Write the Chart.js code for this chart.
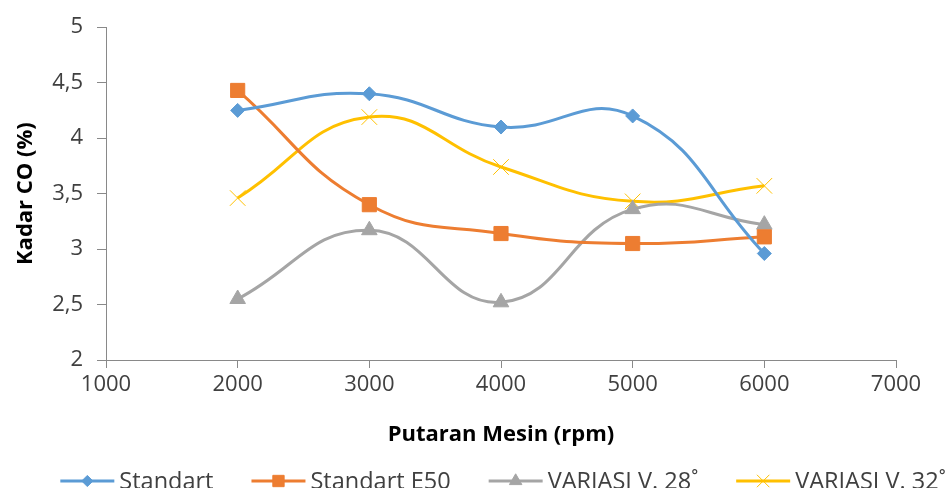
<!DOCTYPE html>
<html>
<head>
<meta charset="utf-8">
<script src="https://cdn.jsdelivr.net/npm/chart.js@4/dist/chart.umd.min.js"></script>
<style>
  html, body { margin: 0; padding: 0; background: #fff; }
  #wrap { width: 949px; height: 488px; }
</style>
</head>
<body>
<div id="wrap"><canvas id="chart" width="949" height="488"></canvas></div>
<script>
const rpm = [2000, 3000, 4000, 5000, 6000];
const standart = [4.25, 4.40, 4.10, 4.20, 2.96];
const standartE50 = [4.43, 3.40, 3.14, 3.05, 3.11];
const variasi28 = [2.55, 3.17, 2.52, 3.36, 3.22];
const variasi32 = [3.46, 4.19, 3.74, 3.43, 3.57];
const seriesNames = ['Standart', 'Standart E50', 'VARIASI V. 28˚', 'VARIASI V. 32˚'];
const seriesColors = ['#5B9BD5', '#ED7D31', '#A5A5A5', '#FFC000'];

const FONT = "'Open Sans', sans-serif";
const AXIS_COLOR = '#898989';

function toPoints(vals){ return rpm.map((x, i) => ({ x, y: vals[i] })); }

const markers = [
  { pointStyle: 'rectRot', radius: 7 },
  { pointStyle: 'rect', radius: 10 },
  { pointStyle: 'triangle', radius: 9 },
  { pointStyle: 'crossRot', radius: 11 }
];

const datasets = [standart, standartE50, variasi28, variasi32].map((vals, i) => ({
  label: seriesNames[i],
  data: toPoints(vals),
  borderColor: seriesColors[i],
  backgroundColor: seriesColors[i],
  borderWidth: 3,
  tension: 0.45,
  pointStyle: markers[i].pointStyle,
  pointRadius: markers[i].radius,
  pointBorderWidth: 1,
  pointBorderColor: seriesColors[i],
  pointBackgroundColor: seriesColors[i]
}));

// legend drawn by hand: line + marker, then text
const bottomLegend = {
  id: 'bottomLegend',
  afterDraw(chart){
    const ctx = chart.ctx;
    const lineLen = 54, gapText = 5, gapItem = 38;
    const y = 481;
    ctx.save();
    ctx.font = "23.5px " + FONT;
    const widths = seriesNames.map(n => ctx.measureText(n).width);
    const total = widths.reduce((s, w) => s + lineLen + gapText + w, 0) + gapItem * (seriesNames.length - 1);
    let x = 503 - total / 2;
    seriesNames.forEach((name, i) => {
      ctx.strokeStyle = seriesColors[i];
      ctx.lineWidth = 3;
      ctx.beginPath(); ctx.moveTo(x, y); ctx.lineTo(x + lineLen, y); ctx.stroke();
      ctx.fillStyle = seriesColors[i];
      ctx.lineWidth = 1;
      const m = markers[i];
      Chart.helpers.drawPoint(ctx, { pointStyle: m.pointStyle, radius: m.radius * 0.8, borderWidth: 1, rotation: 0 }, x + lineLen / 2, y);
      ctx.fillStyle = '#404040';
      ctx.textBaseline = 'middle';
      ctx.textAlign = 'left';
      ctx.fillText(name, x + lineLen + gapText, y + 1);
      x += lineLen + gapText + widths[i] + gapItem;
    });
    ctx.restore();
  }
};

new Chart(document.getElementById('chart'), {
  type: 'line',
  data: { datasets },
  plugins: [bottomLegend],
  options: {
    responsive: false,
    animation: false,
    layout: { padding: { left: 0, right: 53, top: 25, bottom: 0 } },
    plugins: { legend: { display: false }, tooltip: { enabled: false } },
    scales: {
      x: {
        type: 'linear',
        min: 1000, max: 7000,
        afterFit: s => { s.height = 128; },
        border: { color: AXIS_COLOR, width: 1 },
        grid: { drawOnChartArea: false, color: AXIS_COLOR, tickLength: 8 },
        ticks: { stepSize: 1000, color: '#404040', padding: 4, font: { family: FONT, size: 22 }, callback: v => String(v) },
        title: { display: true, text: 'Putaran Mesin (rpm)', color: '#000', padding: { top: 0, bottom: 40 }, font: { family: FONT, size: 22, weight: 'bold' } }
      },
      y: {
        min: 2, max: 5,
        afterFit: s => { s.width = 106; },
        border: { color: AXIS_COLOR, width: 1 },
        grid: { drawOnChartArea: false, color: AXIS_COLOR, tickLength: 9 },
        ticks: { stepSize: 0.5, color: '#404040', padding: 14, font: { family: FONT, size: 22 }, callback: v => String(v).replace('.', ',') },
        title: { display: true, text: 'Kadar CO (%)', color: '#000', padding: { top: 13, bottom: 0 }, font: { family: FONT, size: 22, weight: 'bold' } }
      }
    }
  }
});
</script>
</body>
</html>
